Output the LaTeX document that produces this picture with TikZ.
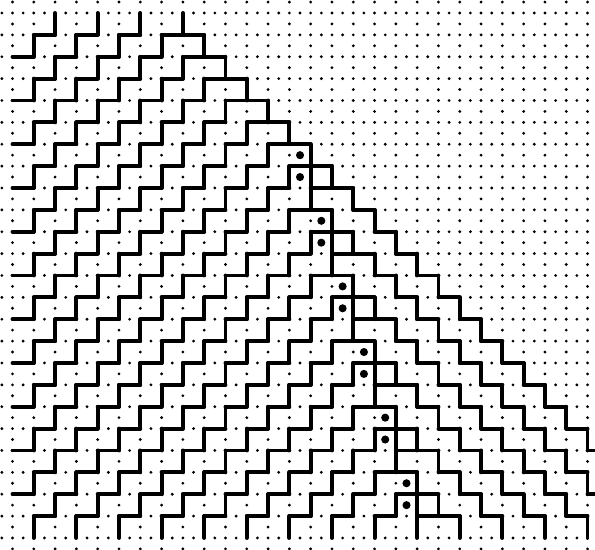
\documentclass[tikz,border=0pt]{standalone}
\usepackage{tikz}

\begin{document}
\begin{tikzpicture}[x=0.5cm,y=-0.5135cm]
\tikzstyle{P}=[line width=2.6pt,line cap=round]
\tikzstyle{D}=[fill=black]
\useasboundingbox (-0.587,-0.594) rectangle (27.35,24.55);
\clip (-0.587,-0.594) rectangle (27.35,24.55);
% front of each row (NE steps to the left, SE steps to the right)
\def\fr{{7,8,9,10,11,12,13,14,15,14,15,16,15,16,17,16,17,18,17,18,19,18,19,20,19}}
% lattice: vertices and edge midpoints
\foreach \k in {-1,...,28}
  \foreach \m in {-1,...,25} {
    \fill[D] (\k,\m) circle (1.05pt);
    \fill[D] (\k+0.5,\m) circle (1.05pt);
    \fill[D] (\k,\m+0.5) circle (1.05pt);
  }
% horizontal steps
\foreach \m in {1,...,23} {
  \pgfmathtruncatemacro\F{\fr[\m]}
  \foreach \k in {0,...,27} {
    \pgfmathtruncatemacro\on{((\k<\F)&&(mod(\k+\m,2)==0))||((\k>=\F)&&(mod(\k+\m,2)==1)&&(\k<=\m+7))}
    \ifnum\on=1 \draw[P] (\k,\m) -- ++(1,0); \fi
  }
}
% vertical steps
\foreach \m in {0,...,23}
  \foreach \k in {1,...,27} {
    \pgfmathtruncatemacro\on{(mod(\k+\m,2)==0)&&(\k<=\m+8)}
    \ifnum\on=1 \draw[P] (\k,\m) -- ++(0,1); \fi
  }
% extra steps beside the marked pairs
\foreach \k/\m in {14/7,15/10,16/13,17/16,18/19,19/22}
  \draw[P] (\k,\m) -- ++(0,1);
% marked pairs
\foreach \k/\m in {13/6,14/9,15/12,16/15,17/18,18/21} {
  \fill[D] (\k+0.5,\m+0.5) circle (2.7pt);
  \fill[D] (\k+0.5,\m+1.5) circle (2.7pt);
}
\end{tikzpicture}
\end{document}
